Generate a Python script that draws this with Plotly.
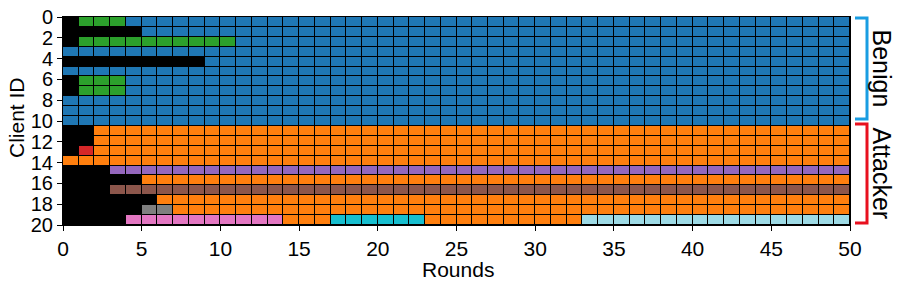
import plotly.graph_objects as go

# colour palette (code -> colour)
palette = ["#000000", "#1f77b4", "#ff7f0e", "#2ca02c", "#d62728",
           "#9467bd", "#8c564b", "#e377c2", "#7f7f7f", "#17becf", "#9edae5"]
K, B, O, G, R, P, BR, PK, GR, C, LB = range(11)

n_rounds = 50
n_clients = 21

# run-length encoded cell colours per client (colour code, number of rounds)
client_runs = [
    [(K, 1), (G, 3), (B, 46)],          # 0
    [(K, 5), (B, 45)],                  # 1
    [(K, 1), (G, 10), (B, 39)],         # 2
    [(B, 50)],                          # 3
    [(K, 9), (B, 41)],                  # 4
    [(B, 50)],                          # 5
    [(K, 1), (G, 3), (B, 46)],          # 6
    [(K, 1), (G, 3), (B, 46)],          # 7
    [(B, 50)],                          # 8
    [(B, 50)],                          # 9
    [(B, 50)],                          # 10
    [(K, 2), (O, 48)],                  # 11
    [(K, 2), (O, 48)],                  # 12
    [(K, 1), (R, 1), (O, 48)],          # 13
    [(O, 50)],                          # 14
    [(K, 3), (P, 47)],                  # 15
    [(K, 5), (O, 45)],                  # 16
    [(K, 3), (BR, 47)],                 # 17
    [(K, 6), (O, 44)],                  # 18
    [(K, 5), (GR, 2), (O, 43)],         # 19
    [(K, 4), (PK, 10), (O, 3), (C, 6), (O, 10), (LB, 17)],  # 20
]

x_ticks = [0, 5, 10, 15, 20, 25, 30, 35, 40, 45, 50]
y_ticks = [0, 2, 4, 6, 8, 10, 12, 14, 16, 18, 20]

z = []
for runs in client_runs:
    row = []
    for code, n in runs:
        row += [code + 0.5] * n
    z.append(row)

x_centers = [i + 0.5 for i in range(n_rounds)]
row_h = 20 / n_clients
y_centers = [(i + 0.5) * row_h for i in range(n_clients)]

nc = len(palette)
colorscale = []
for i, col in enumerate(palette):
    colorscale.append([i / nc, col])
    colorscale.append([(i + 1) / nc, col])

fig = go.Figure(go.Heatmap(
    z=z, x=x_centers, y=y_centers,
    colorscale=colorscale, zmin=0, zmax=nc,
    showscale=False, xgap=1, ygap=1, hoverinfo="skip",
))

L, R_, T, Bm = 63, 47, 17, 61
W, H = 897, 286
font = "Liberation Sans, Arial, Helvetica, sans-serif"
fig.update_layout(
    width=W, height=H,
    margin=dict(l=L, r=R_, t=T, b=Bm, autoexpand=False),
    plot_bgcolor="#000000", paper_bgcolor="white",
    font=dict(family=font, size=21, color="black"),
    showlegend=False,
)
fig.update_xaxes(range=[0, 50], tickvals=x_ticks, ticks="outside", ticklen=5,
                 tickcolor="black", showgrid=False, zeroline=False, automargin=False,
                 showline=True, linecolor="black", linewidth=1, mirror=True,
                 tickfont=dict(size=21))
fig.update_yaxes(range=[20, 0], tickvals=y_ticks, ticks="outside", ticklen=5,
                 tickcolor="black", showgrid=False, zeroline=False, automargin=False,
                 showline=True, linecolor="black", linewidth=1, mirror=True,
                 tickfont=dict(size=20))

pw = W - L - R_
ph = H - T - Bm

def px_x(px):
    return (px - L) / pw

def px_y(py):
    return (H - Bm - py) / ph

# axis titles
fig.add_annotation(text="Rounds", xref="paper", yref="paper", x=px_x(458), y=px_y(269),
                   showarrow=False, font=dict(size=21), xanchor="center", yanchor="middle")
fig.add_annotation(text="Client ID", xref="paper", yref="paper", x=px_x(16), y=px_y(118),
                   showarrow=False, font=dict(size=21), textangle=-90,
                   xanchor="center", yanchor="middle")

brackets = [("#1a9de2", 18, 119), ("#e8101e", 124, 223)]
for col, top, bot in brackets:
    x0, x1 = px_x(855), px_x(867)
    fig.add_shape(type="path", xref="paper", yref="paper",
                  path=f"M {x0} {px_y(top)} L {x1} {px_y(top)} L {x1} {px_y(bot)} L {x0} {px_y(bot)}",
                  line=dict(color=col, width=3))

for label, top, bot in [("Benign", 18, 119), ("Attacker", 124, 223)]:
    fig.add_annotation(text=label, xref="paper", yref="paper",
                       x=px_x(882), y=px_y((top + bot) / 2), textangle=90,
                       showarrow=False, font=dict(size=25, color="black"),
                       xanchor="center", yanchor="middle")

fig.write_html("out.html", config={"displayModeBar": False},
               post_script="document.body.style.margin='0';document.body.style.overflow='hidden';")
